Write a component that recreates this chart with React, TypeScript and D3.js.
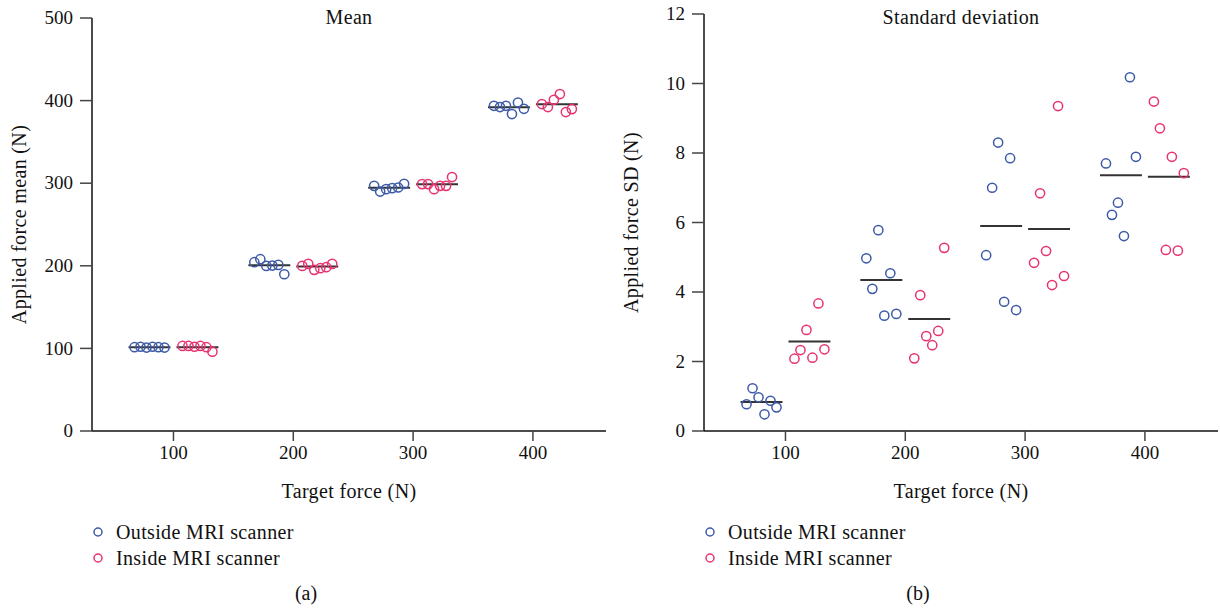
import React from "react";
import * as d3 from "d3";

const targets = [100, 200, 300, 400];
const slotOffsets = [-12.5, -7.5, -2.5, 2.5, 7.5, 12.5];

const meanOutside = [
  [101.5, 102, 101, 102, 101.5, 101],
  [204.4, 208, 199.9, 200.3, 201.1, 189.8],
  [296.8, 289.9, 292.8, 294, 294.8, 299.2],
  [393.7, 392.2, 393.7, 383.7, 397.7, 390.1],
];
const meanInside = [
  [103, 103, 102, 103, 101.5, 96],
  [199.9, 202.3, 195.1, 197.1, 198.3, 202.3],
  [298.9, 298.9, 292.8, 296.8, 296.8, 307.4],
  [395.8, 392.2, 401, 407.9, 386.1, 389.7],
];
const sdOutside = [
  [0.77, 1.23, 0.97, 0.48, 0.87, 0.68],
  [4.97, 4.09, 5.78, 3.32, 4.54, 3.37],
  [5.06, 7.0, 8.3, 3.72, 7.85, 3.48],
  [7.7, 6.22, 6.57, 5.61, 10.18, 7.89],
];
const sdInside = [
  [2.08, 2.33, 2.91, 2.11, 3.67, 2.35],
  [2.09, 3.91, 2.73, 2.47, 2.88, 5.27],
  [4.84, 6.84, 5.18, 4.2, 9.35, 4.46],
  [9.48, 8.71, 5.21, 7.89, 5.19, 7.42],
];
const meanTicks = [0, 100, 200, 300, 400, 500];
const sdTicks = [0, 2, 4, 6, 8, 10, 12];
const seriesNames = ["Outside MRI scanner", "Inside MRI scanner"];

const BLUE = "#3d5aa8";
const PINK = "#e8336f";
const FONT = "'Liberation Serif', 'Times New Roman', serif";
const FS = 19;
const FSL = 20;
const LS = 0.35;

type PanelProps = {
  x0: number;
  title: string;
  yLabel: string;
  yDomain: [number, number];
  yTicks: number[];
  outside: number[][];
  inside: number[][];
  letter: string;
};

function Panel({ x0, title, yLabel, yDomain, yTicks, outside, inside, letter }: PanelProps) {
  const x = d3.scaleLinear().domain([32, 461]).range([x0, x0 + 514]);
  const y = d3.scaleLinear().domain(yDomain).range([431, yDomain[1] === 12 ? 14 : 18]);
  const groupShift = 20;
  const halfLine = 17.5;
  const series = [
    { data: outside, color: BLUE, shift: -groupShift },
    { data: inside, color: PINK, shift: groupShift },
  ];
  const cx = x0 + 257;
  const yMid = (y(yDomain[0]) + y(yDomain[1])) / 2;
  return (
    <g>
      <line x1={x(32)} x2={x(461)} y1={y(yDomain[0])} y2={y(yDomain[0])} stroke="#111" strokeWidth={1.5} />
      <line x1={x(32)} x2={x(32)} y1={y(yDomain[0])} y2={y(yDomain[1])} stroke="#111" strokeWidth={1.5} />
      {yTicks.map((t) => (
        <g key={"yt" + t}>
          <line x1={x(32) - 12} x2={x(32)} y1={y(t)} y2={y(t)} stroke="#444" strokeWidth={1.5} />
          <text x={x(32) - 19} y={y(t)} dy="0.33em" textAnchor="end" fontFamily={FONT} fontSize={FS} fill="#111">
            {t}
          </text>
        </g>
      ))}
      {targets.map((t) => (
        <g key={"xt" + t}>
          <line x1={x(t)} x2={x(t)} y1={y(yDomain[0])} y2={y(yDomain[0]) + 10} stroke="#444" strokeWidth={1.5} />
          <text x={x(t)} y={y(yDomain[0]) + 28} textAnchor="middle" fontFamily={FONT} fontSize={FS} fill="#111">
            {t}
          </text>
        </g>
      ))}
      <text x={cx} y={24} textAnchor="middle" fontFamily={FONT} fontSize={FSL} letterSpacing={LS} fill="#111">
        {title}
      </text>
      <text
        transform={`translate(${x0 - 66},${yMid}) rotate(-90)`}
        textAnchor="middle"
        fontFamily={FONT}
        fontSize={FSL}
        letterSpacing={LS}
        fill="#111"
      >
        {yLabel}
      </text>
      <text x={cx} y={498} textAnchor="middle" fontFamily={FONT} fontSize={FSL} letterSpacing={LS} fill="#111">
        Target force (N)
      </text>
      {series.map((s, si) =>
        targets.map((t, gi) => {
          const vals = s.data[gi];
          const m = d3.mean(vals) as number;
          const c = t + s.shift;
          return (
            <g key={`g${si}-${gi}`}>
              <line x1={x(c - halfLine)} x2={x(c + halfLine)} y1={y(m)} y2={y(m)} stroke="#333" strokeWidth={2} />
              {vals.map((v, i) => (
                <circle
                  key={i}
                  cx={x(c + slotOffsets[i])}
                  cy={y(v)}
                  r={4.6}
                  fill="none"
                  stroke={s.color}
                  strokeWidth={1.5}
                />
              ))}
            </g>
          );
        })
      )}
      {seriesNames.map((n, i) => (
        <g key={n}>
          <circle cx={x0 + 6} cy={532 + i * 26} r={4} fill="none" stroke={i === 0 ? BLUE : PINK} strokeWidth={1.5} />
          <text x={x0 + 24} y={532 + i * 26} dy="0.33em" fontFamily={FONT} fontSize={FSL} letterSpacing={LS} fill="#111">
            {n}
          </text>
        </g>
      ))}
      <text x={x0 + 214} y={600} textAnchor="middle" fontFamily={FONT} fontSize={FSL} fill="#111">
        {letter}
      </text>
    </g>
  );
}

export default function App() {
  return (
    <svg
      width={1220}
      height={610}
      style={{ position: "absolute", left: 0, top: 0, background: "#fff" }}
    >
      <rect width={1220} height={610} fill="#fff" />
      <Panel
        x0={92}
        title="Mean"
        yLabel="Applied force mean (N)"
        yDomain={[0, 500]}
        yTicks={meanTicks}
        outside={meanOutside}
        inside={meanInside}
        letter="(a)"
      />
      <Panel
        x0={704}
        title="Standard deviation"
        yLabel="Applied force SD (N)"
        yDomain={[0, 12]}
        yTicks={sdTicks}
        outside={sdOutside}
        inside={sdInside}
        letter="(b)"
      />
    </svg>
  );
}
